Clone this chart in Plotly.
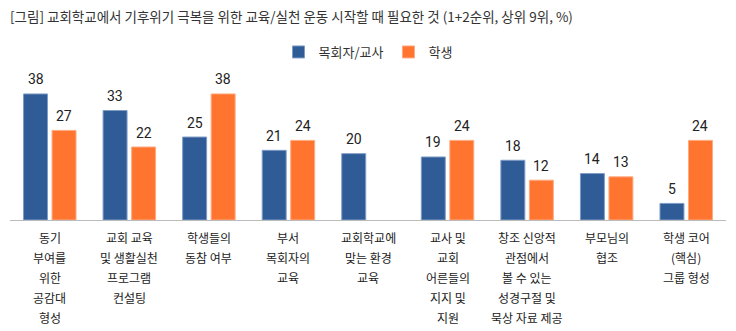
import plotly.graph_objects as go

title_text = "[그림] 교회학교에서 기후위기 극복을 위한 교육/실천 운동 시작할 때 필요한 것 (1+2순위, 상위 9위, %)"
series_names = ["목회자/교사", "학생"]
categories = ["c1", "c2", "c3", "c4", "c5", "c6", "c7", "c8", "c9"]
tick_labels = [
    ["동기", "부여를", "위한", "공감대", "형성"],
    ["교회 교육", "및 생활실천", "프로그램", "컨설팅"],
    ["학생들의", "동참 여부"],
    ["부서", "목회자의", "교육"],
    ["교회학교에", "맞는 환경", "교육"],
    ["교사 및", "교회", "어른들의", "지지 및", "지원"],
    ["창조 신앙적", "관점에서", "볼 수 있는", "성경구절 및", "묵상 자료 제공"],
    ["부모님의", "협조"],
    ["학생 코어", "(핵심)", "그룹 형성"],
]
teacher = [38, 33, 25, 21, 20, 19, 18, 14, 5]
student = [27, 22, 38, 24, None, 24, 12, 13, 24]

BLUE = "#2F5B97"
ORANGE = "#FF7530"
FONT = "Noto Sans CJK KR"

fig = go.Figure()
fig.add_trace(go.Bar(x=categories, y=teacher, name=series_names[0],
                     marker=dict(color=BLUE, line=dict(color="#7F9CC6", width=1))))
fig.add_trace(go.Bar(x=categories, y=student, name=series_names[1],
                     marker=dict(color=ORANGE, line=dict(color="#FFAA80", width=1))))

ann = []
for i, c in enumerate(categories):
    for v, sh in ((teacher[i], -14.25), (student[i], 14.25)):
        if v is None:
            continue
        ann.append(dict(x=c, y=v, xref="x", yref="y", text=str(v), showarrow=False,
                        xshift=sh, yshift=14.5, yanchor="middle",
                        font=dict(family="Roboto", size=14, color="#222")))
    for k, line in enumerate(tick_labels[i]):
        ann.append(dict(x=c, y=0, xref="x", yref="y", text=line, showarrow=False,
                        yshift=-(17 + 20 * k), yanchor="middle",
                        font=dict(family=FONT, size=12, color="#222")))

fig.update_layout(
    width=736, height=331,
    margin=dict(l=10, r=10, t=80, b=111),
    paper_bgcolor="white", plot_bgcolor="white",
    barmode="group", bargap=0.283, bargroupgap=0.16,
    font=dict(family=FONT, size=13, color="#333"),
    title=dict(text=title_text, x=0, xref="paper", xanchor="left",
               y=1 - 17 / 331, yref="container", yanchor="middle",
               font=dict(family=FONT, size=13.5, color="#333")),
    legend=dict(orientation="h", x=0.5, xanchor="center", y=1.2, yanchor="middle",
                font=dict(family=FONT, size=13, color="#333"), itemwidth=30,
                traceorder="normal"),
    xaxis=dict(showticklabels=False, showline=True, linecolor="#BBBBBB", linewidth=1,
               ticks="", showgrid=False, zeroline=False),
    yaxis=dict(range=[0, 42.2], visible=False, showgrid=False, zeroline=False),
    annotations=ann,
)
fig.write_html("out.html")
